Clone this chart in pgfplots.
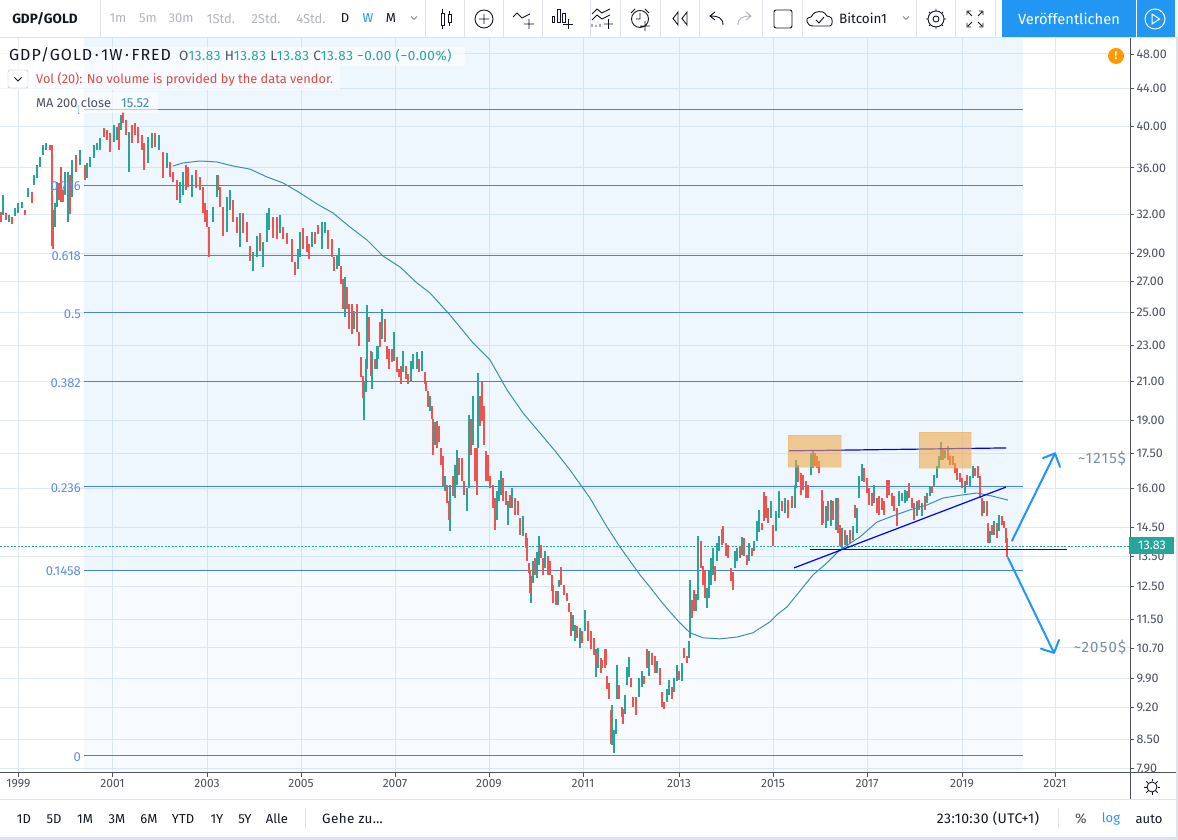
\documentclass[border=0pt]{standalone}
\usepackage{fontspec}
\setmainfont{Fira Sans}
\usepackage{pgfplots}
\usepackage{pgfplotstable}
\usetikzlibrary{calc}
\pgfplotsset{compat=1.18}
\definecolor{upc}{HTML}{26A69A}
\definecolor{dnc}{HTML}{EF5350}
\definecolor{fibc}{HTML}{4682E0}
\definecolor{gridc}{HTML}{E1EAF3}
\definecolor{axc}{HTML}{50535E}
\definecolor{txc}{HTML}{4C525E}
\definecolor{mac}{HTML}{3C8DB5}
\definecolor{tvblue}{HTML}{2196F3}
\definecolor{fiblab}{HTML}{5B8DEF}
\definecolor{boxo}{HTML}{F0A848}
\definecolor{sep}{HTML}{E0E3EB}
\definecolor{ink}{HTML}{131722}
\definecolor{mute}{HTML}{B2B5BE}
\definecolor{notec}{HTML}{78909C}
% pos = horizontal position of the weekly bar on the time axis, lo/hi in GDP/GOLD, c: 1 up, 0 down
\pgfplotstableread{
pos lo hi c
1 31.42 32.21 0
3 31.97 33.63 1
6 31.58 32.13 0
9 31.42 31.97 1
12 31.27 31.82 0
15 31.89 32.56 1
18 32.12 32.95 1
22 32.53 33.05 1
25 31.97 32.37 0
28 33.45 34.22 1
32 32.95 33.88 0
34 34.47 35.39 1
37 35.13 36.28 1
40 36.1 37.0 1
43 37.2 38.17 1
46 37.65 38.35 1
50 37.65 38.17 0
52 29.53 38.12 0
53 29.31 32.4 0
55 31.02 32.95 1
57 32.65 34.73 1
59 33.21 34.65 0
61 33.05 36.1 0
63 33.05 34.05 0
65 33.63 35.65 1
68 31.42 35.65 1
70 32.0 35.39 0
72 33.45 36.73 1
76 35.65 37.2 0
80 36.28 37.65 1
85 34.95 36.28 0
87 35.13 36.46 1
90 36.1 37.0 1
94 36.9 38.15 1
97 37.65 38.35 1
100 37.65 38.85 1
104 38.9 39.8 0
107 38.65 39.61 0
110 37.45 39.35 0
114 38.45 40.1 1
117 38.65 39.9 1
119 37.65 40.3 0
121 39.61 41.15 1
123 40.3 41.45 0
126 39.15 40.6 0
129 35.65 39.4 1
132 38.35 40.1 0
135 39.15 40.3 0
138 38.35 39.9 0
142 37.65 39.15 0
144 35.83 38.35 0
148 36.46 38.95 1
152 37.85 39.3 1
155 37.9 39.3 0
159 37.65 39.15 1
163 35.13 37.45 0
167 36.0 37.35 1
170 35.2 36.55 0
173 34.73 35.65 0
177 33.21 34.9 0
180 32.95 34.73 1
183 33.63 35.65 1
186 34.05 36.28 0
188 34.3 36.1 0
192 33.45 35.39 1
196 34.22 35.83 0
200 34.05 35.2 0
203 32.12 34.3 0
205 31.37 32.95 0
207 31.02 32.37 0
209 28.77 31.02 0
213 31.37 32.65 1
217 33.45 35.39 1
218 34.05 35.39 0
220 32.65 34.3 0
223 30.27 32.65 0
227 30.65 33.45 1
230 32.37 34.05 1
233 31.37 33.21 0
237 30.57 31.82 0
240 29.45 32.12 1
243 30.57 32.12 0
247 29.82 31.37 0
250 28.42 29.53 0
253 27.72 29.1 1
257 28.77 30.27 1
260 29.17 30.57 0
263 27.99 29.82 1
267 29.82 32.12 1
269 30.8 32.55 1
273 30.17 31.82 0
277 30.04 31.82 0
280 30.57 31.97 1
283 30.04 31.02 0
287 29.67 30.57 0
292 28.35 30.04 0
295 27.49 28.35 0
298 27.86 29.31 1
300 28.77 30.65 1
303 29.31 30.95 0
307 29.1 30.27 0
309 28.63 29.67 0
312 29.45 30.65 1
315 29.67 30.65 0
318 30.42 31.19 0
322 29.31 31.37 1
325 30.57 31.42 1
328 29.31 30.8 0
332 28.77 30.04 0
334 27.72 28.77 0
337 27.86 28.92 1
339 28.06 29.38 1
341 26.84 28.06 0
343 25.19 27.17 0
345 24.69 27.31 1
347 25.19 26.63 0
349 23.96 25.5 0
352 23.66 25.5 0
354 23.96 25.06 1
357 23.79 25.5 0
359 22.94 23.79 0
361 21.24 22.32 0
363 20.1 21.29 0
364 19.02 20.97 1
366 20.44 22.21 1
367 21.67 25.43 1
369 23.21 24.69 0
371 21.29 22.67 0
372 20.61 22.61 1
375 21.67 22.21 0
377 21.67 22.94 1
378 22.21 22.94 1
380 22.89 24.39 0
382 23.35 25.19 1
385 23.19 24.57 0
387 22.21 22.94 0
389 21.67 22.78 0
392 22.04 22.78 0
394 22.1 23.79 1
397 21.51 22.32 0
399 21.24 21.67 0
401 20.87 21.84 0
403 21.51 22.67 1
406 21.13 21.84 0
408 20.87 21.4 0
411 20.97 22.1 1
413 21.67 22.49 1
417 21.67 22.61 1
419 21.51 22.21 0
422 21.56 22.67 1
425 20.87 21.51 0
426 20.46 20.97 0
428 19.68 20.46 0
430 19.48 20.24 1
432 19.1 19.72 0
433 17.42 19.1 0
435 17.85 18.95 1
437 17.72 19.0 0
439 17.99 18.75 0
441 16.98 17.72 0
443 16.11 17.37 0
445 15.92 16.52 1
447 15.43 16.15 0
449 14.79 15.51 0
450 14.38 16.15 1
453 15.72 16.52 0
455 15.63 16.98 1
457 16.15 17.63 1
459 16.55 17.28 0
462 16.32 17.28 0
464 15.75 16.32 0
467 15.12 16.03 1
469 16.03 19.29 1
471 17.42 19.1 0
473 17.85 20.24 1
475 16.32 17.72 0
477 15.75 17.72 0
478 17.72 21.44 1
480 18.75 20.24 0
482 19.0 20.94 0
484 17.85 19.72 0
486 16.32 17.62 0
488 16.32 17.42 0
490 16.03 16.52 0
493 15.24 16.15 0
495 14.42 15.63 0
497 14.79 15.92 1
499 15.51 16.35 1
501 15.75 16.72 1
503 15.51 16.43 0
506 15.35 15.92 0
508 14.6 15.51 1
510 15.24 15.75 0
512 15.24 16.03 1
515 14.97 15.63 0
518 14.97 15.51 0
520 14.24 14.86 0
523 14.2 14.92 1
526 13.78 14.32 0
527 13.34 14.13 0
529 12.94 13.27 0
530 12.3 13.02 0
531 12.0 12.84 1
533 12.62 13.34 1
535 12.87 13.44 0
537 12.78 13.62 1
539 13.2 14.2 1
541 13.44 13.88 0
543 12.87 13.44 0
545 13.1 13.68 1
548 12.87 13.5 0
550 12.87 13.34 0
552 12.37 12.87 0
553 12.0 12.55 0
556 11.92 12.37 0
558 11.92 12.37 1
559 12.49 12.72 1
561 12.55 13.14 0
564 12.22 12.55 0
567 12.06 12.3 0
569 11.72 12.0 0
571 11.04 11.72 0
573 11.17 11.64 1
575 10.9 11.34 1
577 10.98 11.32 0
580 10.71 11.26 1
582 10.84 11.18 0
585 11.18 11.79 1
588 10.9 11.46 0
591 10.66 11.18 0
594 10.52 10.98 0
596 9.95 10.66 1
597 10.26 10.57 0
598 10.18 10.71 1
601 10.05 10.44 0
602 10.18 10.39 0
605 10.18 10.66 0
606 10.26 10.66 0
607 9.65 9.97 0
609 9.41 9.79 0
611 8.4 9.15 0
612 8.38 9.27 1
614 8.2 8.7 1
616 8.61 8.95 1
617 9.41 10.26 1
619 9.41 9.75 0
622 8.99 9.22 0
623 8.84 9.17 0
625 9.05 9.51 1
627 9.75 10.21 1
629 9.95 10.46 1
631 9.7 9.92 0
633 9.22 9.46 0
636 9.03 9.46 0
639 9.46 9.92 1
642 9.7 10.1 1
644 9.78 9.97 0
647 10.18 10.66 0
649 9.97 10.63 1
652 10.24 10.57 0
655 10.05 10.49 0
657 10.05 10.36 1
660 9.75 10.18 0
662 9.22 9.58 0
664 9.17 9.34 0
667 9.34 9.65 1
669 9.51 9.87 1
672 9.41 9.7 0
674 9.58 9.92 1
677 9.84 10.26 1
679 9.87 10.1 0
682 9.84 10.31 1
684 10.44 10.71 0
687 10.31 10.49 0
689 10.44 10.9 1
690 10.98 12.72 1
692 11.55 12.09 0
694 11.76 12.39 0
696 11.76 12.27 1
698 12.09 14.2 1
701 13.1 14.02 0
703 12.55 13.17 0
705 12.15 13.02 0
707 11.85 12.46 1
709 12.15 13.02 1
711 12.55 13.44 1
713 12.87 13.78 1
715 12.68 13.17 0
717 13.34 13.95 1
719 13.68 14.2 1
722 13.88 14.45 0
723 13.95 14.57 0
726 13.5 13.95 0
728 13.44 13.88 0
731 12.68 13.1 0
733 12.39 12.97 0
735 13.1 13.68 1
737 13.34 13.78 1
740 13.44 13.85 0
742 13.54 14.17 1
744 13.5 14.13 0
747 13.2 13.54 0
749 13.34 13.95 1
752 13.5 13.78 0
754 13.68 14.02 1
757 14.02 14.75 1
759 14.35 15.17 1
762 14.42 14.67 0
764 14.75 15.87 0
766 14.86 15.72 0
768 14.67 15.24 0
771 14.86 15.51 1
773 13.85 14.6 0
776 14.38 15.12 1
779 14.86 15.92 1
782 15.12 15.51 0
785 15.05 15.63 1
788 14.86 15.55 0
792 15.24 15.72 0
795 15.24 16.15 1
796 16.03 17.19 1
798 16.27 16.98 0
801 15.75 16.64 0
803 15.95 16.55 0
806 15.63 16.32 0
808 15.63 16.15 0
811 16.55 17.5 1
813 16.85 17.59 1
815 16.94 17.5 0
817 16.85 17.37 0
819 16.64 17.15 0
822 14.6 15.95 0
823 14.67 15.51 0
826 14.49 15.32 1
828 14.75 15.51 0
831 14.57 15.55 1
833 14.79 15.51 0
836 14.42 15.63 1
838 14.32 15.63 0
840 13.85 14.6 0
842 13.78 14.49 1
845 13.88 14.42 0
847 13.85 14.24 1
850 13.95 14.42 0
853 14.06 14.57 1
855 14.86 15.35 0
857 14.32 15.24 1
859 15.63 16.52 1
862 16.32 17.02 1
864 16.27 16.85 0
867 15.83 16.43 0
869 15.35 16.03 0
872 15.32 15.83 0
874 15.43 16.15 1
877 15.05 15.63 0
879 14.97 15.72 0
882 15.17 15.63 0
884 14.97 15.51 0
887 15.63 16.35 0
889 15.75 16.35 0
892 15.32 15.83 0
894 15.12 15.72 0
897 14.57 15.24 0
899 15.32 15.92 1
902 15.51 15.83 1
905 15.43 15.95 1
907 15.51 15.92 1
909 15.63 16.23 0
912 15.24 15.63 0
914 14.79 15.43 0
917 14.92 15.51 1
919 15.17 15.55 0
922 14.92 15.43 1
925 15.17 15.72 0
927 15.43 15.83 1
930 15.72 16.11 1
932 15.83 16.11 0
934 16.11 16.55 1
937 16.43 16.94 1
939 16.85 17.37 1
941 17.2 17.99 1
943 17.2 17.72 0
945 17.28 17.63 1
948 17.2 17.81 0
950 16.98 17.37 0
953 16.98 17.37 0
955 16.64 17.07 0
957 16.35 16.85 0
960 16.27 16.64 0
962 16.03 16.43 0
965 15.83 16.32 1
967 16.15 16.55 0
970 16.11 16.52 1
973 16.43 16.94 1
975 16.52 16.85 0
978 16.43 16.94 0
980 15.63 16.52 0
982 14.92 15.63 0
984 15.05 15.51 1
987 14.92 15.51 0
988 13.95 14.67 0
990 13.95 14.38 1
992 14.24 14.6 0
994 14.24 14.75 1
997 14.13 14.67 0
999 14.38 14.97 1
1002 14.6 14.92 0
1004 14.49 14.75 0
1006 13.95 14.49 0
1007 13.47 14.13 0
}\bars
\pgfplotsset{
  wick/.style={draw=none, mark=none, forget plot,
    error bars/.cd, y dir=plus, y explicit, error mark=none,
    error bar style={line width=1.8pt, color=#1}},
}
\newcommand\fs[2]{\fontsize{#1}{#1}\selectfont\addfontfeature{LetterSpace=#2}}
\begin{document}
\begin{tikzpicture}[x=1pt,y=1pt]
\path[use as bounding box] (0pt,0pt) rectangle (1178pt,840pt);
\fill[white] (0pt,0pt) rectangle (1178pt,840pt);
\begin{axis}[
  at={(0pt,67pt)}, anchor=south west,
  scale only axis, width=1130pt, height=735pt,
  xmin=0, xmax=1130, ymin=7.803, ymax=49.98, ymode=log,
  axis x line*=bottom, axis y line*=right,
  axis line style={draw=axc, line width=1pt, -},
  xtick={18.4,112.5,207,301,395,489,583,679,773,867,962,1055},
  xticklabels={1999,2001,2003,2005,2007,2009,2011,2013,2015,2017,2019,2021},
  ytick={48,44,40,36,32,29,27,25,23,21,19,17.5,16,14.5,13.5,12.5,11.5,10.7,9.9,9.2,8.5,7.9},
  yticklabels={48.00,44.00,40.00,36.00,32.00,29.00,27.00,25.00,23.00,21.00,19.00,17.50,16.00,14.50,13.50,12.50,11.50,10.70,9.90,9.20,8.50,7.90},
  minor tick num=0, log ticks with fixed point,
  tick align=outside, major tick length=4pt,
  tick style={draw=axc, line width=.8pt},
  grid=major, grid style={draw=gridc, line width=1pt},
  x tick label style={font=\fontsize{12}{14}\selectfont, text=txc, yshift=1pt},
  y tick label style={font=\fontsize{12.5}{14}\selectfont, text=txc, xshift=-1pt},
  clip=true,
]
% Fibonacci bands
\addplot[draw=none, fill=tvblue, fill opacity=.07, forget plot] coordinates {(84,13.03)(1023,13.03)(1023,49.98)(84,49.98)} -- cycle;
\addplot[draw=none, fill=tvblue, fill opacity=.03, forget plot] coordinates {(84,7.803)(1023,7.803)(1023,13.03)(84,13.03)} -- cycle;
% last-price line
\addplot[draw=upc, line width=.8pt, dash pattern=on 2pt off 1.5pt, forget plot] coordinates {(0,13.83)(1130,13.83)};
% Fibonacci levels
\addplot[draw=fibc, line width=1pt, forget plot] coordinates {(84,41.67)(1023,41.67)};
\addplot[draw=fibc, line width=1pt, forget plot] coordinates {(84,34.47)(1023,34.47)};
\addplot[draw=fibc, line width=1pt, forget plot] coordinates {(84,28.88)(1023,28.88)};
\addplot[draw=fibc, line width=1pt, forget plot] coordinates {(84,24.95)(1023,24.95)};
\addplot[draw=fibc, line width=1pt, forget plot] coordinates {(84,20.96)(1023,20.96)};
\addplot[draw=fibc, line width=1pt, forget plot] coordinates {(84,16.08)(1023,16.08)};
\addplot[draw=fibc, line width=1pt, forget plot] coordinates {(84,13.03)(1023,13.03)};
\addplot[draw=fibc, line width=1pt, forget plot] coordinates {(84,8.15)(1023,8.15)};
% weekly bars
\addplot[wick=upc] table[x=pos, y=lo, y error plus expr=\thisrow{hi}-\thisrow{lo}, restrict expr to domain={\thisrow{c}}{0.5:1.5}] {\bars};
\addplot[wick=dnc] table[x=pos, y=lo, y error plus expr=\thisrow{hi}-\thisrow{lo}, restrict expr to domain={\thisrow{c}}{-0.5:0.5}] {\bars};
% MA 200
\addplot[draw=mac, line width=1pt, forget plot] coordinates {
(173,36.17)(183,36.45)(200,36.63)(217,36.54)(233,36.17)(250,35.89)(267,35.18)(283,34.65)(300,33.79)(317,32.86)
(333,32.12)(350,31.0)(367,30.0)(383,28.81)(400,28.02)(417,26.91)(430,26.24)(450,24.82)(473,23.13)(490,22.16)
(507,20.54)(523,19.38)(540,18.42)(555,17.61)(570,16.78)(590,15.63)(607,14.53)(620,13.81)(640,12.87)(650,12.48)
(660,12.08)(670,11.72)(680,11.40)(690,11.12)(703,10.98)(720,10.95)(737,11.0)(753,11.12)(760,11.25)(770,11.43)
(777,11.64)(787,11.87)(795,12.17)(813,12.87)(827,13.27)(840,13.71)(860,14.17)(877,14.71)(893,14.94)(910,15.17)
(927,15.36)(943,15.63)(960,15.74)(977,15.83)(993,15.70)(1008,15.55)};
% hand-drawn annotations
\addplot[draw=blue, line width=1.2pt, forget plot] coordinates {(789,17.61)(1006,17.74)};
\addplot[draw=boxo, fill=boxo, fill opacity=.6, draw opacity=.3, forget plot] coordinates {(788,16.91)(841,16.91)(841,18.33)(788,18.33)} -- cycle;
\addplot[draw=boxo, fill=boxo, fill opacity=.6, draw opacity=.3, forget plot] coordinates {(919,16.86)(971,16.86)(971,18.47)(919,18.47)} -- cycle;
\addplot[draw=blue, line width=1.2pt, forget plot] coordinates {(794,13.10)(1006,16.07)};
\addplot[draw=blue, line width=1.2pt, forget plot] coordinates {(810,13.71)(1067,13.71)};
\addplot[draw=tvblue, line width=2pt, line cap=round, line join=round, forget plot] coordinates {(1012,14.03)(1055,17.5)};
\addplot[draw=tvblue, line width=2pt, line cap=round, line join=round, forget plot] coordinates {(1043,17.29)(1055,17.5)(1060,16.91)};
\addplot[draw=tvblue, line width=2pt, line cap=round, line join=round, forget plot] coordinates {(1008,13.44)(1054,10.57)};
\addplot[draw=tvblue, line width=2pt, line cap=round, line join=round, forget plot] coordinates {(1041,10.68)(1054,10.57)(1059,10.92)};
\end{axis}
\begin{scope}[x=1pt,y=-1pt,shift={(0pt,840pt)}]
\draw[axc,line width=1pt] (1130,773) -- (1176,773);
% price tag
\fill[upc] (1129,537) rectangle (1174,554);
\node[text=white,font=\fontsize{12.5}{14}\selectfont] at (1152,545.5) {13.83};
% notes
\node[text=notec,font=\fs{15}{8}] at (1102,458) {\textasciitilde1215\$};
\node[text=notec,font=\fs{15}{8}] at (1100,647) {\textasciitilde2050\$};
% Fib labels
\foreach \yy/\lab in {110/1,186/0.786,256/0.618,314/0.5,383/0.382,488/0.236,571/0.1458,757/0}
  \node[anchor=east,inner sep=0pt,text=fiblab,font=\fontsize{13}{14}\selectfont] at (81,\yy) {\lab};
% legend
\fill[white,opacity=.6] (0,47) rectangle (465,66);
\fill[white,opacity=.6] (0,66) rectangle (340,90);
\fill[white,opacity=.6] (34,92) rectangle (158,113);
\node[anchor=west,inner sep=0pt,text=ink,font=\fs{16}{6}] at (9,55) {GDP/GOLD\,·\,1W\,·\,FRED};
\node[anchor=west,inner sep=0pt,font=\fs{13.5}{4}] at (179,55.5) {\textcolor{txc}{O}\textcolor{upc}{13.83} \textcolor{txc}{H}\textcolor{upc}{13.83} \textcolor{txc}{L}\textcolor{upc}{13.83} \textcolor{txc}{C}\textcolor{upc}{13.83} \textcolor{upc}{−0.00 (−0.00\%)}};
\draw[draw=mute,rounded corners=2pt,fill=white] (8,70) rectangle (28,88);
\draw[ink,line width=.9pt] (14.5,77.5) -- (18,81) -- (21.5,77.5);
\node[anchor=west,inner sep=0pt,text=dnc!90!black,font=\fontsize{12.8}{14}\selectfont] at (36,79) {Vol (20): No volume is provided by the data vendor.};
\node[anchor=west,inner sep=0pt,text=txc,font=\fontsize{12.8}{14}\selectfont] at (36,103) {MA 200 close};
\node[anchor=west,inner sep=0pt,text=mac,font=\fontsize{13}{14}\selectfont] at (121,103) {15.52};
% alert
\fill[orange!80!yellow] (1116,56) circle (8);
\node[text=white,font=\bfseries\fontsize{11}{12}\selectfont] at (1116,56) {!};
% toolbar
\fill[white] (0,0) rectangle (1178,37);
\fill[sep] (0,37) rectangle (1178,38.5);
\foreach \xx in {100,425,464,503,542,590.5,620,660,699,762,802,916,955,995}
  \draw[sep] (\xx,0) -- (\xx,37);
\node[text=ink,font=\bfseries\fontsize{13.5}{14}\selectfont] at (45,18.5) {GDP/GOLD};
\foreach \xx/\lab in {118/1m,148/5m,181/30m,221/1Std.,266/2Std.,311/4Std.}
  \node[text=mute,font=\fontsize{13}{14}\selectfont] at (\xx,18.5) {\lab};
\node[text=ink,font=\fontsize{13}{14}\selectfont] at (345,18.5) {D};
\node[text=tvblue,font=\fontsize{13}{14}\selectfont] at (368,18.5) {W};
\node[text=ink,font=\fontsize{13}{14}\selectfont] at (391,18.5) {M};
\draw[txc] (411,16.5) -- (414,19.5) -- (417,16.5);
% icons
\begin{scope}[ink,line width=.9pt]
\draw (441,13) rectangle (444,25) (442.5,9) -- (442.5,13) (442.5,25) -- (442.5,29);
\draw (448,14) rectangle (451,22) (449.5,11) -- (449.5,14) (449.5,22) -- (449.5,26);
\draw (484,19) circle (9) (484,14) -- (484,24) (479,19) -- (489,19);
\draw (513,17) -- (517,13) -- (522,18) -- (530,14) (524,24) -- (534,24) (529,19) -- (529,29);
\draw (552,16) rectangle (554,22) (557,9) rectangle (560,22) (562,13) rectangle (565,22) (563,24) -- (573,24) (568,19) -- (568,29);
\draw (592,14) -- (597,9) -- (602,13) -- (610,9) (592,20) -- (597,15) -- (602,19) -- (610,15) (592,27) -- (592,24) (596,27) -- (596,25) (600,27) -- (600,24) (604,24) -- (613,24) (608.5,19) -- (608.5,29);
\draw (640,19) circle (8.5) (640,13) -- (640,19) -- (636,19) (631,13) -- (635,9) (645,9) -- (649,13) (640,26) -- (650,26) (645,21) -- (645,31);
\draw (678,12) -- (673,18.5) -- (678,25) -- cycle (687,12) -- (682,18.5) -- (687,25) -- cycle;
\draw (723,25) .. controls (723,18) and (718,16) .. (711,16) (715,12) -- (710,16) -- (715,20);
\draw[mute] (738,25) .. controls (738,18) and (743,16) .. (750,16) (746,12) -- (751,16) -- (746,20);
\draw[rounded corners=2pt] (774,10) rectangle (792,28);
\draw[rounded corners=4pt] (811,26) -- (817,26) (813,26) .. controls (806,26) and (806,18) .. (812,18) .. controls (814,11) and (824,11) .. (826,17) .. controls (833,17) and (833,26) .. (826,26) -- (811,26);
\draw (816,20) -- (819,23) -- (824,17);
\draw (936,19) circle (3);
\draw (936,19) circle (8) (936,9) -- (936,11) (936,27) -- (936,29) (926,19) -- (928,19) (944,19) -- (946,19) (929,12) -- (930.5,13.5) (943,12) -- (941.5,13.5) (929,26) -- (930.5,24.5) (943,26) -- (941.5,24.5);
\draw (967,15) -- (967,11) -- (971,11) (983,15) -- (983,11) -- (979,11) (967,23) -- (967,27) -- (971,27) (983,23) -- (983,27) -- (979,27) (968,12) -- (972,16) (982,12) -- (978,16) (968,26) -- (972,22) (982,26) -- (978,22);
\end{scope}
\node[text=ink,font=\fontsize{13.5}{14}\selectfont] at (863,18.5) {Bitcoin1};
\draw[txc] (903,16.5) -- (906,19.5) -- (909,16.5);
\fill[tvblue] (1002,0) rectangle (1135.5,37);
\fill[tvblue] (1137,0) rectangle (1175,37);
\node[text=white,font=\fontsize{14.7}{16}\selectfont] at (1069,18.5) {Veröffentlichen};
\draw[white,line width=1pt] (1155,19) circle (10);
\draw[white,line width=1pt] (1152,14) -- (1159.5,19) -- (1152,24) -- cycle;
% bottom panels
\fill[white] (0,799) rectangle (1178,840);
\fill[sep] (0,799) rectangle (1178,800.5);
\fill[sep] (0,837.5) rectangle (1178,840);
\fill[sep] (1175.5,38) rectangle (1178,840);
\draw[axc,line width=1pt] (1130,773) -- (1130,799);
\draw[ink,line width=.9pt] (1152,787) circle (5);
\foreach \a in {0,45,...,315} \draw[ink,line width=.9pt] ($(1152,787)+(\a:5.5)$) -- ($(1152,787)+(\a:8)$);
\foreach \xx/\lab in {24/1D,54/5D,85/1M,117/3M,149/6M,183/YTD,217/1Y,245/5Y,277/Alle}
  \node[text=ink,font=\fontsize{13}{14}\selectfont] at (\xx,819) {\lab};
\draw[sep] (305,808) -- (305,829);
\node[anchor=west,inner sep=0pt,text=ink,font=\fs{13.5}{3}] at (322,819) {Gehe zu…};
\node[text=ink,font=\fs{14}{3}] at (988,819) {23:10:30 (UTC+1)};
\draw[sep] (1058,808) -- (1058,829);
\node[text=ink!75,font=\fontsize{14}{14}\selectfont] at (1081,819) {\%};
\node[text=tvblue,font=\fontsize{13}{14}\selectfont] at (1111,819) {log};
\node[text=ink,font=\fontsize{13}{14}\selectfont] at (1149,819) {auto};
\end{scope}
\end{tikzpicture}
\end{document}
